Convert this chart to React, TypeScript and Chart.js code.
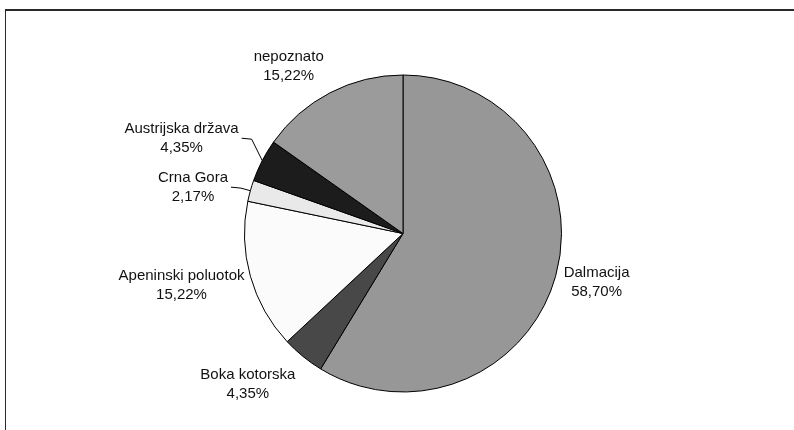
import React, { useEffect, useRef } from 'react';
import { Chart, registerables } from 'chart.js';

Chart.register(...registerables);

const categories = ['Dalmacija', 'Boka kotorska', 'Apeninski poluotok', 'Crna Gora', 'Austrijska država', 'nepoznato'];
const shares = [58.7, 4.35, 15.22, 2.17, 4.35, 15.22];
const sliceColors = ['#979797', '#484848', '#fbfbfb', '#e9e9e9', '#1c1c1c', '#9b9b9b'];
// label layout: angular shift (deg) from the slice mid angle, distance as multiple of radius
const labelShiftDeg = [-1.6, 6.7, 2.5, -3.2, -4.1, -6.9];
const labelDistance = [1.259, 1.365, 1.435, 1.357, 1.521, 1.28];
const labelLeader = [false, false, false, true, true, false];

const fmt = (v: number) => v.toFixed(2).replace('.', ',') + '%';

const framePlugin = {
  id: 'frame',
  beforeDraw(chart: any) {
    const ctx = chart.ctx;
    ctx.save();
    ctx.fillStyle = '#ffffff';
    ctx.fillRect(0, 0, chart.width, chart.height);
    ctx.fillStyle = '#2a2a2a';
    ctx.fillRect(5, 9, chart.width - 5, 2);
    ctx.fillRect(5, 9, 1, chart.height - 9);
    ctx.restore();
  },
};

const labelPlugin = {
  id: 'sliceLabels',
  afterDatasetsDraw(chart: any) {
    const ctx = chart.ctx;
    const meta = chart.getDatasetMeta(0);
    ctx.save();
    ctx.font = '15px "Liberation Sans", Arial, sans-serif';
    ctx.fillStyle = '#111111';
    ctx.textAlign = 'center';
    ctx.textBaseline = 'middle';
    meta.data.forEach((arc: any, i: number) => {
      const { x, y, startAngle, endAngle, outerRadius } = arc.getProps(
        ['x', 'y', 'startAngle', 'endAngle', 'outerRadius'],
        true
      );
      const mid = (startAngle + endAngle) / 2;
      const a = mid + (labelShiftDeg[i] * Math.PI) / 180;
      const d = outerRadius * labelDistance[i];
      const cx = x + Math.cos(a) * d;
      const cy = y + Math.sin(a) * d;
      const l1 = categories[i];
      const l2 = fmt(shares[i]);
      ctx.fillText(l1, cx, cy - 9.5);
      ctx.fillText(l2, cx, cy + 9.5);
      if (labelLeader[i]) {
        const w = Math.max(ctx.measureText(l1).width, ctx.measureText(l2).width);
        const sx = cx + w / 2 + 3;
        const ex = x + Math.cos(mid) * outerRadius;
        const ey = y + Math.sin(mid) * outerRadius;
        ctx.beginPath();
        ctx.moveTo(sx, cy);
        ctx.lineTo(sx + 10, cy + 1);
        ctx.lineTo(ex, ey);
        ctx.strokeStyle = '#000000';
        ctx.lineWidth = 1;
        ctx.stroke();
      }
    });
    ctx.restore();
  },
};

export default function App() {
  const ref = useRef<HTMLCanvasElement | null>(null);

  useEffect(() => {
    document.body.style.margin = '0';
    if (!ref.current) return;
    const chart = new Chart(ref.current, {
      type: 'pie',
      data: {
        labels: categories,
        datasets: [
          {
            data: shares,
            backgroundColor: sliceColors,
            borderColor: '#000000',
            borderWidth: 1,
            radius: 158.5,
          } as any,
        ],
      },
      options: {
        responsive: false,
        maintainAspectRatio: false,
        animation: false,
        layout: { padding: { left: 12, top: 37, right: 0, bottom: 0 } },
        plugins: {
          legend: { display: false },
          tooltip: { enabled: false },
        },
      },
      plugins: [framePlugin, labelPlugin],
    });
    return () => chart.destroy();
  }, []);

  return (
    <div style={{ width: 794, height: 430 }}>
      <canvas ref={ref} width={794} height={430} style={{ display: 'block' }} />
    </div>
  );
}
